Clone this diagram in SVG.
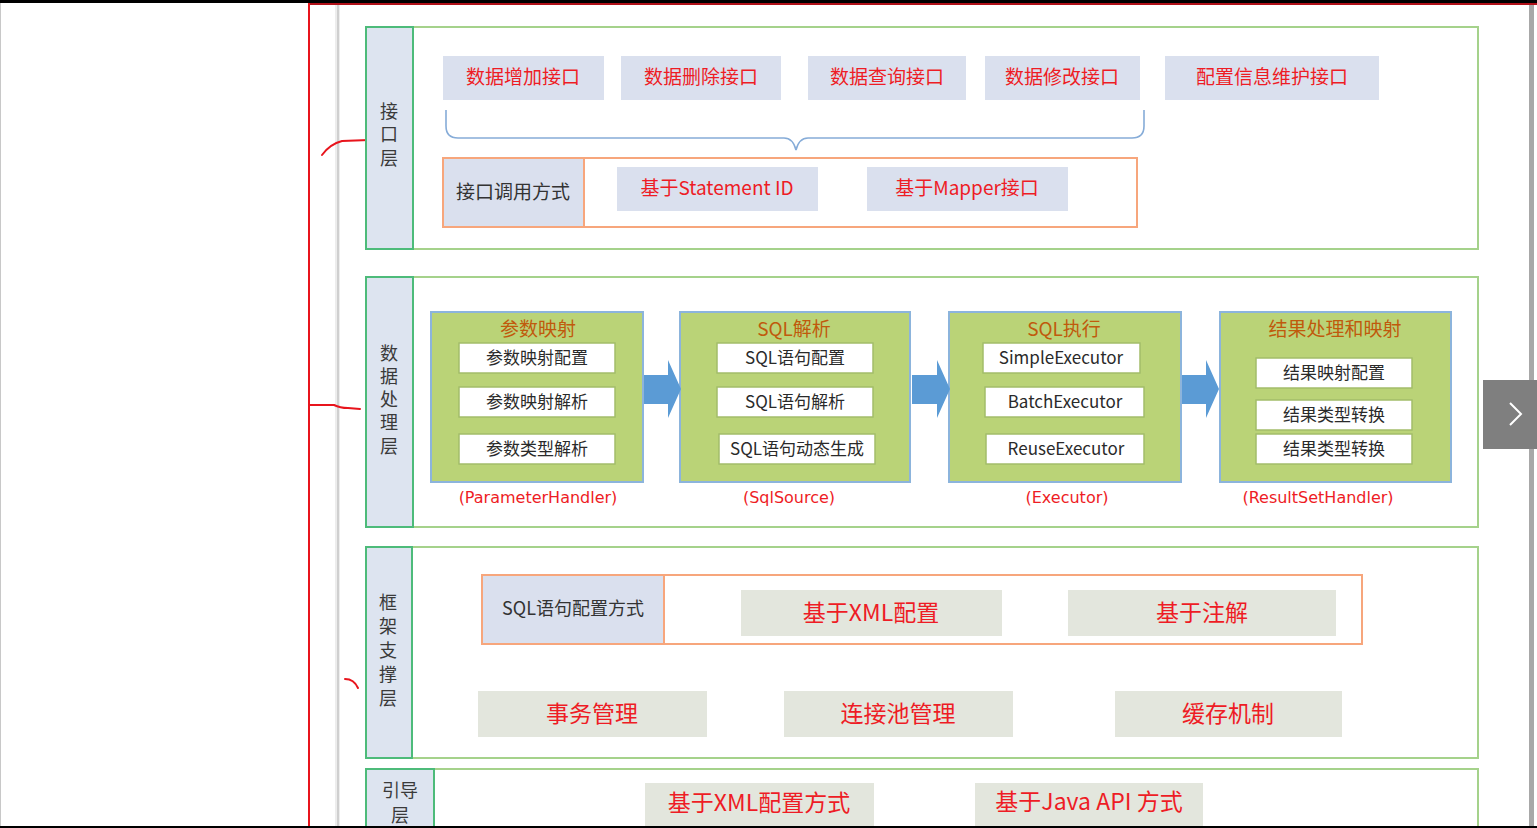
<svg xmlns="http://www.w3.org/2000/svg" width="1537" height="828" viewBox="0 0 1537 828">
<defs>
<style>
.t{font-family:"Noto Sans CJK SC","Noto Sans",sans-serif;}
.outer{fill:#fff;stroke:#a5d28b;stroke-width:2;}
.lab{fill:#dde4f0;stroke:#4dbb7a;stroke-width:2;}
.labt{font-size:18px;fill:#3a3a3a;text-anchor:middle;}
.ibox{fill:#dae0ee;}
.red{fill:#ee1c25;text-anchor:middle;}
.orange{fill:none;stroke:#f7a67c;stroke-width:2;}
.blk{fill:#bad377;stroke:#8cb4dc;stroke-width:2;}
.ttl{font-size:19px;fill:#c05a0c;text-anchor:middle;}
.wb{fill:#fff;stroke:#a3bd6a;stroke-width:1.5;}
.wt{font-size:17px;fill:#2a2a2a;text-anchor:middle;}
.cap{font-family:"DejaVu Sans",sans-serif;font-size:16px;fill:#ee1c25;text-anchor:middle;}
.gbox{fill:#e3e6dd;}
.arr{fill:#5b9bd5;}
.mark{fill:none;stroke:#e8141c;stroke-width:2;stroke-linecap:round;}
</style>
</defs>
<rect width="1537" height="828" fill="#fff"/>
<g id="frame">
<rect x="0" y="0" width="1537" height="3" fill="#000"/>
<rect x="308" y="3" width="1229" height="2" fill="#b01018"/>
<rect x="0" y="3" width="1" height="823" fill="#c8c8c8"/>
<rect x="308" y="3" width="2" height="823" fill="#e8141c"/>
<rect x="335" y="5" width="5" height="821" fill="#ededed"/>
<rect x="337" y="5" width="2" height="821" fill="#cfcfcf"/>
<rect x="1529" y="5" width="5" height="821" fill="#a8a8a8"/>
</g>
<g id="marks">
<path class="mark" d="M322,155 Q330,144 342,141 L369,140"/>
<path class="mark" d="M310,405 L334,405 Q340,408 348,408 L360,409"/>
<path class="mark" d="M345,679 Q354,679 358,688"/>
</g>
<g id="layer-interface">
<rect class="outer" x="366" y="27" width="1112" height="222"/>
<rect class="lab" x="366" y="27" width="47" height="222"/>
<text class="t labt" x="389" y="118">接</text>
<text class="t labt" x="389" y="141">口</text>
<text class="t labt" x="389" y="165">层</text>
</g>
<g id="if-add"><rect class="ibox" x="443" y="56" width="161" height="44"/><text class="t red" x="523" y="84" font-size="19">数据增加接口</text></g>
<g id="if-del"><rect class="ibox" x="621" y="56" width="160" height="44"/><text class="t red" x="701" y="84" font-size="19">数据删除接口</text></g>
<g id="if-query"><rect class="ibox" x="808" y="56" width="158" height="44"/><text class="t red" x="887" y="84" font-size="19">数据查询接口</text></g>
<g id="if-mod"><rect class="ibox" x="985" y="56" width="155" height="44"/><text class="t red" x="1062" y="84" font-size="19">数据修改接口</text></g>
<g id="if-conf"><rect class="ibox" x="1165" y="56" width="214" height="44"/><text class="t red" x="1272" y="84" font-size="19">配置信息维护接口</text></g>
<g id="call-way">
<rect x="443" y="158" width="141" height="69" fill="#dae0ee"/>
<rect class="orange" x="443" y="158" width="694" height="69"/>
<line x1="584" y1="158" x2="584" y2="227" stroke="#f7a67c" stroke-width="2"/>
<text class="t" x="513" y="199" font-size="19" fill="#333" text-anchor="middle">接口调用方式</text>
</g>
<g id="call-stmt"><rect class="ibox" x="617" y="167" width="201" height="44"/><text class="t red" x="717" y="195" font-size="19">基于Statement ID</text></g>
<g id="call-mapper"><rect class="ibox" x="867" y="167" width="201" height="44"/><text class="t red" x="967" y="195" font-size="19">基于Mapper接口</text></g>
<g id="layer-data">
<rect class="outer" x="366" y="277" width="1112" height="250"/>
<rect class="lab" x="366" y="277" width="47" height="250"/>
<text class="t labt" x="389" y="360">数</text>
<text class="t labt" x="389" y="383">据</text>
<text class="t labt" x="389" y="406">处</text>
<text class="t labt" x="389" y="429">理</text>
<text class="t labt" x="389" y="453">层</text>
</g>
<g id="blk-param">
<rect class="blk" x="431" y="312" width="212" height="170"/>
<text class="t ttl" x="538" y="336">参数映射</text>
<rect class="wb" x="459" y="343" width="156" height="30"/><text class="t wt" x="537" y="364">参数映射配置</text>
<rect class="wb" x="459" y="387" width="156" height="30"/><text class="t wt" x="537" y="408">参数映射解析</text>
<rect class="wb" x="459" y="434" width="156" height="30"/><text class="t wt" x="537" y="455">参数类型解析</text>
<text class="cap" x="538" y="503">(ParameterHandler)</text>
</g>
<g id="blk-sql">
<rect class="blk" x="680" y="312" width="230" height="170"/>
<text class="t ttl" x="794" y="336">SQL解析</text>
<rect class="wb" x="717" y="343" width="156" height="30"/><text class="t wt" x="795" y="364">SQL语句配置</text>
<rect class="wb" x="717" y="387" width="156" height="30"/><text class="t wt" x="795" y="408">SQL语句解析</text>
<rect class="wb" x="719" y="434" width="156" height="30"/><text class="t wt" x="797" y="455">SQL语句动态生成</text>
<text class="cap" x="789" y="503">(SqlSource)</text>
</g>
<g id="blk-exec">
<rect class="blk" x="949" y="312" width="232" height="170"/>
<text class="t ttl" x="1064" y="336">SQL执行</text>
<rect class="wb" x="983" y="343" width="157" height="30"/><text class="t wt" x="1061" y="364">SimpleExecutor</text>
<rect class="wb" x="985" y="387" width="159" height="30"/><text class="t wt" x="1065" y="408">BatchExecutor</text>
<rect class="wb" x="986" y="434" width="158" height="30"/><text class="t wt" x="1066" y="455">ReuseExecutor</text>
<text class="cap" x="1067" y="503">(Executor)</text>
</g>
<g id="blk-result">
<rect class="blk" x="1220" y="312" width="231" height="170"/>
<text class="t ttl" x="1335" y="336">结果处理和映射</text>
<rect class="wb" x="1256" y="358" width="156" height="30"/><text class="t wt" x="1334" y="379">结果映射配置</text>
<rect class="wb" x="1256" y="400" width="156" height="30"/><text class="t wt" x="1334" y="421">结果类型转换</text>
<rect class="wb" x="1256" y="434" width="156" height="30"/><text class="t wt" x="1334" y="455">结果类型转换</text>
<text class="cap" x="1318" y="503">(ResultSetHandler)</text>
</g>
<g id="connectors">
<path class="arr" d="M644,375 L668,375 L668,360 L681,389 L668,418 L668,404 L644,404 Z"/>
<path class="arr" d="M912,375 L937,375 L937,360 L950,389 L937,418 L937,404 L912,404 Z"/>
<path class="arr" d="M1182,375 L1206,375 L1206,360 L1219,389 L1206,418 L1206,404 L1182,404 Z"/>
<path d="M446,110 L446,126 Q446,138 458,138 L784,138 Q793,138 796,150 Q799,138 808,138 L1132,138 Q1144,138 1144,126 L1144,110" fill="none" stroke="#86acd8" stroke-width="1.6"/>
</g>
<g id="layer-frame">
<rect class="outer" x="366" y="547" width="1112" height="211"/>
<rect class="lab" x="366" y="547" width="46" height="211"/>
<text class="t labt" x="388" y="609">框</text>
<text class="t labt" x="388" y="633">架</text>
<text class="t labt" x="388" y="657">支</text>
<text class="t labt" x="388" y="681">撑</text>
<text class="t labt" x="388" y="705">层</text>
</g>
<g id="sql-way">
<rect x="482" y="575" width="182" height="69" fill="#dae0ee"/>
<rect class="orange" x="482" y="575" width="880" height="69"/>
<line x1="664" y1="575" x2="664" y2="644" stroke="#f7a67c" stroke-width="2"/>
<text class="t" x="573" y="615" font-size="18" fill="#333" text-anchor="middle">SQL语句配置方式</text>
</g>
<g id="sql-xml"><rect class="gbox" x="741" y="590" width="261" height="46"/><text class="t red" x="871" y="621" font-size="23">基于XML配置</text></g>
<g id="sql-anno"><rect class="gbox" x="1068" y="590" width="268" height="46"/><text class="t red" x="1202" y="621" font-size="23">基于注解</text></g>
<g id="tx"><rect class="gbox" x="478" y="691" width="229" height="46"/><text class="t red" x="592" y="722" font-size="23">事务管理</text></g>
<g id="pool"><rect class="gbox" x="784" y="691" width="229" height="46"/><text class="t red" x="898" y="722" font-size="23">连接池管理</text></g>
<g id="cache"><rect class="gbox" x="1115" y="691" width="227" height="46"/><text class="t red" x="1228" y="722" font-size="23">缓存机制</text></g>
<g id="layer-boot">
<rect class="outer" x="366" y="769" width="1112" height="70"/>
<rect class="lab" x="366" y="769" width="68" height="70"/>
<text class="t labt" x="400" y="797">引导</text>
<text class="t labt" x="400" y="822">层</text>
</g>
<g id="boot-xml"><rect class="gbox" x="645" y="783" width="229" height="45"/><text class="t red" x="759" y="811" font-size="23">基于XML配置方式</text></g>
<g id="boot-java"><rect class="gbox" x="975" y="783" width="228" height="45"/><text class="t red" x="1089" y="810" font-size="23">基于Java API 方式</text></g>
<rect x="0" y="826" width="1537" height="2" fill="#000"/>
<g id="nav-next">
<rect x="1483" y="380" width="54" height="69" fill="#7f7f7f"/>
<path d="M1510,403 L1521,414 L1510,425" fill="none" stroke="#fff" stroke-width="2"/>
</g>
</svg>
